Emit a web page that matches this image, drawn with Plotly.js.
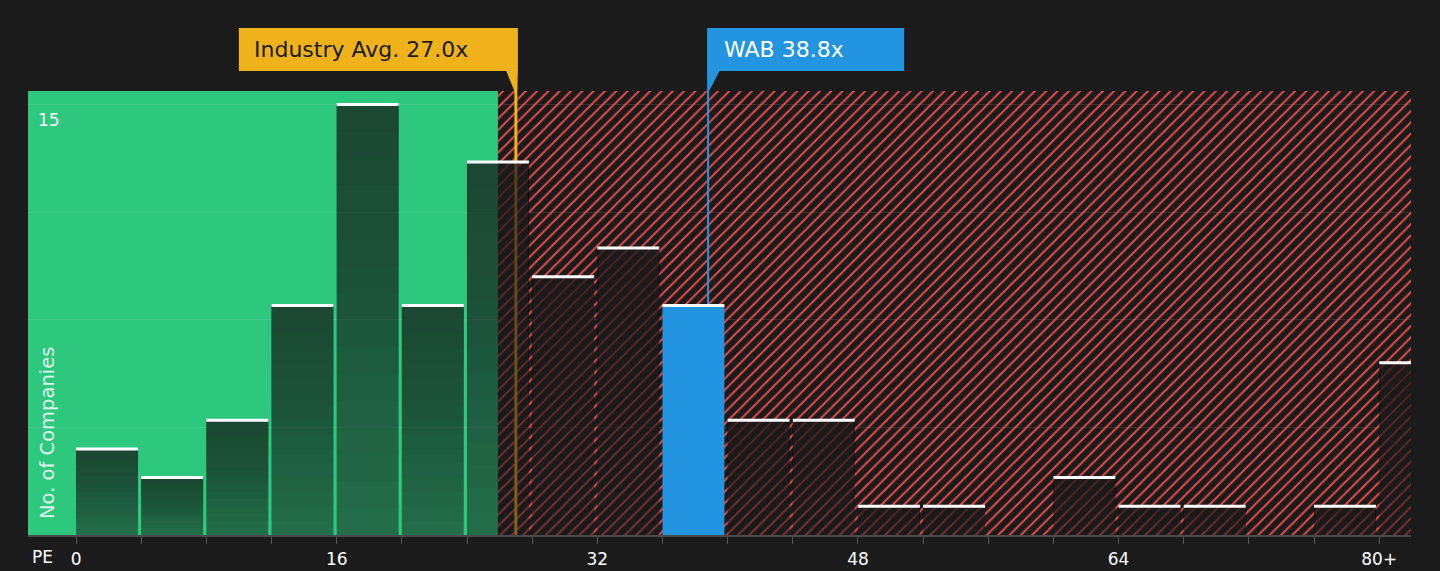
<!DOCTYPE html>
<html>
<head>
<meta charset="utf-8">
<script src="https://cdn.plot.ly/plotly-3.0.1.min.js"></script>
<style>
  html, body { margin: 0; padding: 0; background: #1b1b1b; }
  #chart { width: 1440px; height: 571px; }
</style>
</head>
<body>
<div id="chart"></div>
<script>
// histogram bins (PE, width 4) and number of companies in each
var binStarts = [0, 4, 8, 12, 16, 20, 24, 28, 32, 36, 40, 44, 48, 52, 56, 60, 64, 68, 72, 76, 80];
var companyCounts = [3, 2, 4, 8, 15, 8, 13, 9, 10, 8, 4, 4, 1, 1, 0, 2, 1, 1, 0, 1, 6];
var tickValues = [0, 4, 8, 12, 16, 20, 24, 28, 32, 36, 40, 44, 48, 52, 56, 60, 64, 68, 72, 76, 80];
var tickLabels = ['0', '', '', '', '16', '', '', '', '32', '', '', '', '48', '', '', '', '64', '', '', '', '80+'];
var gridValues = [3.75, 7.5, 11.25, 15];

var industryAvg = 27.0;
var companyName = 'WAB';
var companyPE = 38.8;
var goodValueEnd = 25.9;   // end of green zone

var xRange = [-2.95, 81.95];
var yRange = [0, 15.47];
var binWidth = 3.8;

var font = 'DejaVu Sans';
var green = '#2dc77e';
var red = '#e04b4b';
var orange = '#f0b21a';
var blue = '#2394df';
var bg = '#1b1b1b';

var highlight = Math.floor(companyPE / 4);

var traces = [];

// red hatched zone (drawn as one wide bar so it can take a pattern)
traces.push({
  type: 'bar',
  x: [goodValueEnd],
  y: [yRange[1]],
  width: [100],
  offset: 0,
  marker: {
    color: red,
    line: { width: 0 },
    pattern: { shape: '/', size: 8, solidity: 0.25, fillmode: 'replace' }
  },
  hoverinfo: 'skip', showlegend: false
});

traces.push({
  type: 'scatter', mode: 'lines',
  x: [industryAvg, industryAvg], y: yRange,
  line: { color: orange, width: 3 },
  hoverinfo: 'skip', showlegend: false
});

traces.push({
  type: 'scatter', mode: 'lines',
  x: [companyPE, companyPE], y: yRange,
  line: { color: blue, width: 2 },
  hoverinfo: 'skip', showlegend: false
});

// main bars, then thin layers on the upper part of each bar
// so they get darker towards the top
traces.push({
  type: 'bar',
  x: binStarts,
  y: companyCounts,
  width: binWidth,
  offset: 0,
  xaxis: 'x2', yaxis: 'y2',
  marker: {
    color: companyCounts.map(function (c, i) {
      return i === highlight ? blue : 'rgba(27,27,27,0.52)';
    }),
    line: { width: 0 }
  },
  hoverinfo: 'skip', showlegend: false
});

var steps = 16;
for (var k = 1; k < steps; k++) {
  traces.push({
    type: 'bar',
    x: binStarts,
    y: companyCounts.map(function (c) { return c * (1 - k / steps); }),
    base: companyCounts.map(function (c) { return c * k / steps; }),
    width: binWidth,
    offset: 0,
    xaxis: 'x2', yaxis: 'y2',
    marker: {
      color: companyCounts.map(function (c, i) {
        return i === highlight ? 'rgba(0,0,0,0)' : 'rgba(27,27,27,0.036)';
      }),
      line: { width: 0 }
    },
    hoverinfo: 'skip', showlegend: false
  });
}

// white caps on top of each non-empty bar
var capX = [];
var capY = [];
binStarts.forEach(function (b, i) {
  if (companyCounts[i] > 0) {
    capX.push(b, b + binWidth, null);
    capY.push(companyCounts[i], companyCounts[i], null);
  }
});

traces.push({
  type: 'scatter', mode: 'lines',
  x: capX, y: capY,
  xaxis: 'x2', yaxis: 'y2',
  line: { color: '#ffffff', width: 3 },
  connectgaps: false,
  hoverinfo: 'skip', showlegend: false
});

var layout = {
  width: 1440, height: 571,
  margin: { l: 28, r: 29, t: 91, b: 36 },
  paper_bgcolor: bg,
  plot_bgcolor: bg,
  font: { family: font, color: '#ffffff' },
  showlegend: false,
  barmode: 'overlay',
  xaxis: {
    range: xRange, tickvals: tickValues, ticktext: tickLabels,
    ticks: 'outside', ticklen: 7, tickwidth: 1, tickcolor: '#555555',
    ticklabelstandoff: 1,
    showline: true, linecolor: '#4a4a4a', linewidth: 2,
    showgrid: false, zeroline: false,
    tickfont: { family: font, size: 17, color: '#ffffff' }
  },
  yaxis: {
    range: yRange, tickvals: gridValues, showticklabels: false,
    showgrid: true, gridcolor: 'rgba(255,255,255,0.1)', gridwidth: 1,
    zeroline: false, ticks: ''
  },
  xaxis2: { range: xRange, overlaying: 'x', visible: false },
  yaxis2: { range: yRange, overlaying: 'y', visible: false },
  shapes: [
    {
      type: 'rect', xref: 'x', yref: 'paper', layer: 'below',
      x0: xRange[0], x1: goodValueEnd, y0: 0, y1: 1,
      fillcolor: green, line: { width: 0 }
    },
    {
      type: 'rect', xref: 'x', yref: 'paper',
      xsizemode: 'pixel', xanchor: industryAvg, x0: -277, x1: 2,
      ysizemode: 'pixel', yanchor: 1, y0: 20, y1: 63,
      fillcolor: orange, line: { width: 0 }
    },
    {
      type: 'path', xref: 'x', yref: 'paper',
      xsizemode: 'pixel', xanchor: industryAvg,
      ysizemode: 'pixel', yanchor: 1,
      path: 'M-10,21 L2,21 L1.5,0 L-1.5,0 Z',
      fillcolor: orange, line: { width: 0 }
    },
    {
      type: 'rect', xref: 'x', yref: 'paper',
      xsizemode: 'pixel', xanchor: companyPE, x0: -1, x1: 196,
      ysizemode: 'pixel', yanchor: 1, y0: 20, y1: 63,
      fillcolor: blue, line: { width: 0 }
    },
    {
      type: 'path', xref: 'x', yref: 'paper',
      xsizemode: 'pixel', xanchor: companyPE,
      ysizemode: 'pixel', yanchor: 1,
      path: 'M-1,21 L12,21 L1,0 L-1,0 Z',
      fillcolor: blue, line: { width: 0 }
    }
  ],
  annotations: [
    {
      text: 'Industry Avg. ' + industryAvg.toFixed(1) + 'x',
      xref: 'x', x: industryAvg, xanchor: 'left', xshift: -264,
      yref: 'paper', y: 1, yanchor: 'middle', yshift: 41.5,
      showarrow: false, font: { family: font, size: 22, color: '#1b1b1b' }
    },
    {
      text: companyName + ' ' + companyPE.toFixed(1) + 'x',
      xref: 'x', x: companyPE, xanchor: 'left', xshift: 14,
      yref: 'paper', y: 1, yanchor: 'middle', yshift: 41.5,
      showarrow: false, font: { family: font, size: 22, color: '#ffffff' }
    },
    {
      text: '15',
      xref: 'paper', x: 0, xanchor: 'left', xshift: 8,
      yref: 'y', y: 15, yanchor: 'top', yshift: -4,
      showarrow: false, font: { family: font, size: 17, color: '#ffffff' }
    },
    {
      text: 'No. of Companies', textangle: -90,
      xref: 'paper', x: 0, xanchor: 'center', xshift: 19,
      yref: 'y', y: 0, yanchor: 'bottom', yshift: 14,
      showarrow: false, font: { family: font, size: 19.5, color: 'rgba(255,255,255,0.85)' }
    },
    {
      text: 'PE',
      xref: 'paper', x: 0, xanchor: 'left', xshift: 2,
      yref: 'paper', y: 0, yanchor: 'bottom', yshift: -34,
      showarrow: false, font: { family: font, size: 17, color: '#ffffff' }
    }
  ]
};

Plotly.newPlot('chart', traces, layout, { displayModeBar: false, staticPlot: true });
</script>
</body>
</html>
